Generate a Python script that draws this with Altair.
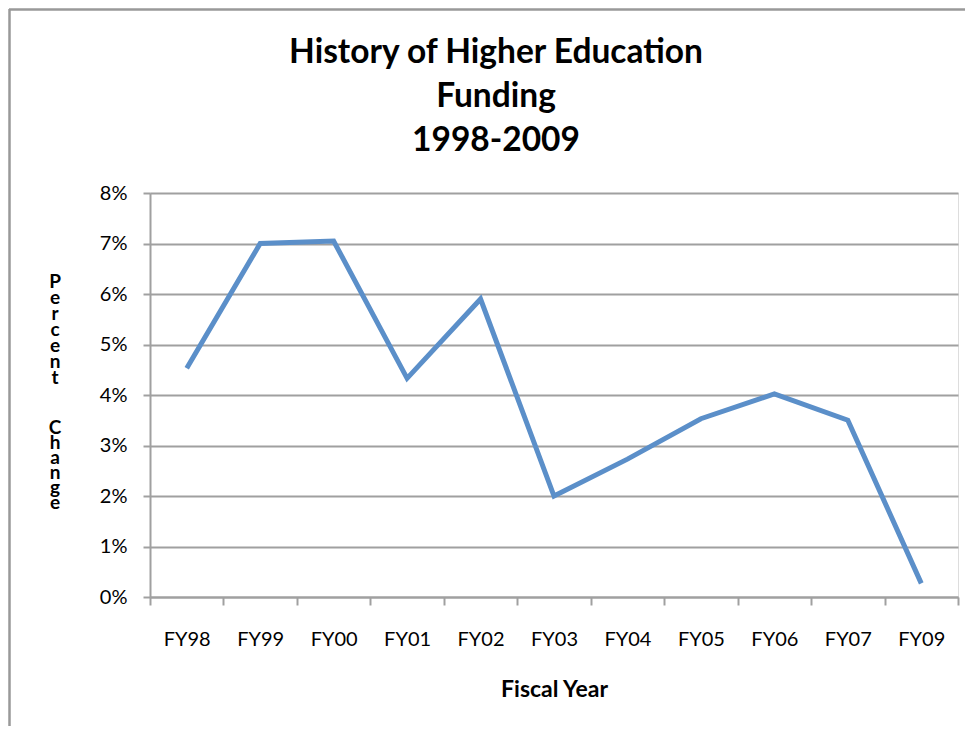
import altair as alt
import pandas as pd

years = ["FY98", "FY99", "FY00", "FY01", "FY02", "FY03", "FY04", "FY05", "FY06", "FY07", "FY09"]
pct_change = [4.53, 7.0, 7.05, 4.33, 5.9, 2.0, 2.73, 3.53, 4.02, 3.5, 0.27]
y_ticks = [0, 1, 2, 3, 4, 5, 6, 7, 8]
title_lines = ["History of Higher Education", "Funding", "1998-2009"]
y_title_word1 = list("Percent")
y_title_word2 = list("Change")

df = pd.DataFrame({"year": years, "pct": pct_change})
one = pd.DataFrame({"k": [0]})

W, H = 808, 404
PAD = {"left": 142, "top": 185, "right": 7, "bottom": 129}
FONT = "Lato"
GRID = "#a0a0a0"
LINE = "#5b8fc9"

line = alt.Chart(df).mark_line(color=LINE, strokeWidth=5, strokeJoin="miter").encode(
    x=alt.X("year:N", sort=years,
            scale=alt.Scale(type="band", paddingInner=0, paddingOuter=0),
            axis=alt.Axis(title="Fiscal Year", labelAngle=0, tickBand="extent",
                          tickSize=8, tickColor=GRID, tickWidth=2,
                          domainColor=GRID, domainWidth=2,
                          labelFont=FONT, labelFontSize=20, labelColor="#000",
                          labelPadding=24, titleFont=FONT, titleFontSize=23,
                          titleFontWeight="bold", titleColor="#000", titlePadding=29,
                          grid=False)),
    y=alt.Y("pct:Q", scale=alt.Scale(domain=[0, 8], nice=False),
            axis=alt.Axis(values=y_ticks, labelExpr="datum.value + '%'",
                          grid=True, gridColor=GRID, gridWidth=2,
                          tickSize=7, tickColor=GRID, tickWidth=2,
                          domainColor=GRID, domainWidth=2,
                          labelFont=FONT, labelFontSize=20, labelColor="#000",
                          labelPadding=16, title="")),
)

title = alt.Chart(one).mark_text(
    text=title_lines, font=FONT, fontSize=33.5, fontWeight="bold", color="#000",
    lineHeight=44, align="center", baseline="alphabetic",
).encode(x=alt.value(346), y=alt.value(-130))

ytitle1 = alt.Chart(one).mark_text(
    text=y_title_word1, font=FONT, fontSize=19, fontWeight="bold", color="#000",
    lineHeight=16, align="center", baseline="alphabetic",
).encode(x=alt.value(-95), y=alt.value(95))

ytitle2 = alt.Chart(one).mark_text(
    text=y_title_word2, font=FONT, fontSize=19, fontWeight="bold", color="#000",
    lineHeight=15, align="center", baseline="alphabetic",
).encode(x=alt.value(-95), y=alt.value(241))

border_left = alt.Chart(one).mark_rule(color="#999999", strokeWidth=2.5).encode(
    x=alt.value(-140.5), y=alt.value(-184), y2=alt.value(H + PAD["bottom"])
)
border_top = alt.Chart(one).mark_rule(color="#999999", strokeWidth=2.5).encode(
    x=alt.value(-141), x2=alt.value(W + PAD["right"]), y=alt.value(-183.5)
)

chart = alt.layer(border_left, border_top, title, ytitle1, ytitle2, line).properties(
    width=W, height=H,
    autosize=alt.AutoSizeParams(type="none"),
    padding=PAD,
).configure_view(stroke=None).configure(background="white")

chart.save("out.html", embed_options={"renderer": "svg", "actions": False})
